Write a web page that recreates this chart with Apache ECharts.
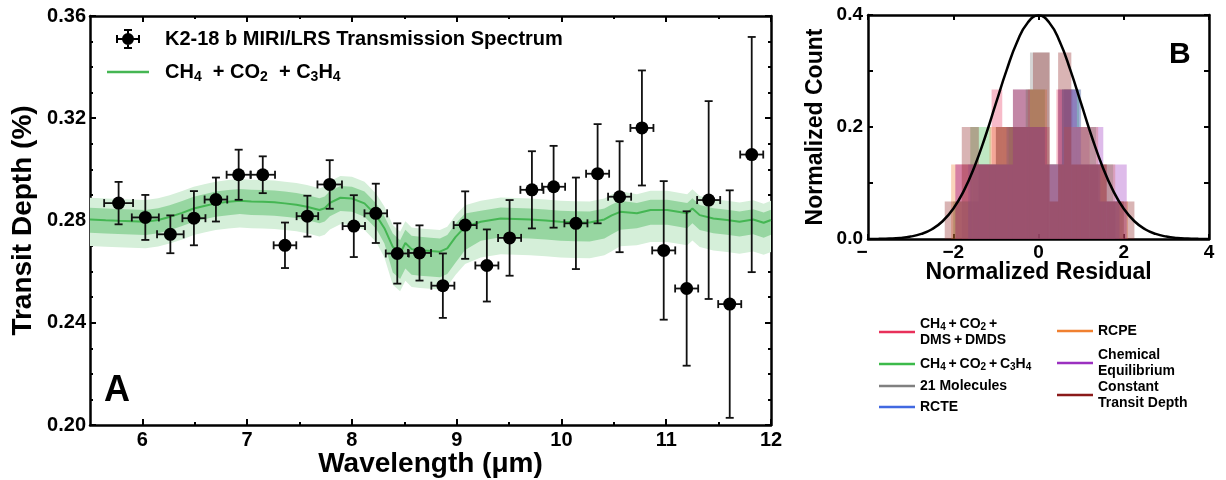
<!DOCTYPE html>
<html><head><meta charset="utf-8">
<script src="https://cdn.jsdelivr.net/npm/echarts@6/dist/echarts.min.js"></script>
<style>html,body{margin:0;padding:0;background:#fff}#c{width:1226px;height:480px}</style>
</head><body><div id="c"></div>
<script>
// ---------- Panel A data ----------
const dataWave  = [5.773,6.028,6.267,6.492,6.702,6.919,7.149,7.361,7.575,7.788,8.018,8.228,8.433,8.645,8.868,9.081,9.288,9.505,9.718,9.925,10.138,10.345,10.555,10.768,10.976,11.195,11.405,11.606,11.816];
const dataDepth = [0.2868,0.2812,0.2746,0.2809,0.2882,0.2979,0.2979,0.2703,0.2817,0.2941,0.2778,0.2828,0.2671,0.2673,0.2545,0.2782,0.2624,0.2732,0.2920,0.2932,0.2789,0.2983,0.2893,0.3162,0.2683,0.2534,0.2880,0.2473,0.3058];
const dataErr   = [0.0083,0.0088,0.0074,0.0106,0.0086,0.0098,0.0072,0.0089,0.0080,0.0095,0.0121,0.0116,0.0118,0.0108,0.0126,0.0132,0.0141,0.0148,0.0151,0.0160,0.0179,0.0194,0.0217,0.0225,0.0271,0.0302,0.0387,0.0445,0.0460];
const dataXErr  = [0.138,0.129,0.127,0.110,0.108,0.115,0.117,0.108,0.103,0.117,0.107,0.108,0.110,0.110,0.110,0.110,0.110,0.110,0.110,0.110,0.110,0.110,0.110,0.110,0.110,0.110,0.110,0.110,0.110];

const modelWave  = [5.50,5.65,5.77,5.90,6.03,6.15,6.26,6.38,6.49,6.60,6.70,6.82,6.93,7.04,7.15,7.26,7.36,7.47,7.57,7.69,7.74,7.79,7.89,8.00,8.12,8.23,8.31,8.39,8.46,8.51,8.57,8.65,8.75,8.84,8.91,8.99,9.08,9.23,9.42,9.56,9.70,9.85,9.99,10.13,10.27,10.41,10.48,10.56,10.72,10.85,11.01,11.20,11.25,11.32,11.45,11.58,11.70,11.83,11.93,12.00];
const modelDepth = [0.2804,0.2801,0.2799,0.2797,0.2795,0.2802,0.2814,0.2830,0.2847,0.2858,0.2867,0.2873,0.2877,0.2874,0.2873,0.2871,0.2867,0.2862,0.2854,0.2841,0.2848,0.2869,0.2889,0.2886,0.2867,0.2821,0.2770,0.2697,0.2671,0.2712,0.2688,0.2684,0.2681,0.2678,0.2691,0.2736,0.2775,0.2795,0.2808,0.2806,0.2804,0.2800,0.2795,0.2793,0.2792,0.2804,0.2820,0.2834,0.2828,0.2841,0.2841,0.2828,0.2847,0.2821,0.2808,0.2802,0.2795,0.2804,0.2791,0.2802];
// band half-widths (1 sigma up/down, 2 sigma up/down)
const sig1Up = [0.0046,0.0046,0.0046,0.0046,0.0046,0.0046,0.0046,0.0046,0.0046,0.0046,0.0046,0.0046,0.0046,0.0046,0.0046,0.0046,0.0046,0.0046,0.0046,0.0046,0.0046,0.0046,0.0046,0.0046,0.0046,0.0046,0.0046,0.0052,0.0052,0.0052,0.0052,0.0052,0.0052,0.0052,0.0052,0.0052,0.0052,0.0043,0.0043,0.0043,0.0043,0.0043,0.0043,0.0043,0.0043,0.0043,0.0043,0.0043,0.0040,0.0040,0.0040,0.0040,0.0040,0.0040,0.0040,0.0040,0.0040,0.0040,0.0040,0.0040];
const sig1Dn = [0.0052,0.0052,0.0052,0.0052,0.0052,0.0052,0.0052,0.0052,0.0052,0.0052,0.0052,0.0052,0.0052,0.0052,0.0052,0.0052,0.0052,0.0052,0.0052,0.0052,0.0052,0.0052,0.0052,0.0052,0.0052,0.0052,0.0060,0.0100,0.0100,0.0100,0.0100,0.0100,0.0100,0.0100,0.0100,0.0100,0.0090,0.0074,0.0074,0.0074,0.0074,0.0074,0.0074,0.0074,0.0074,0.0074,0.0074,0.0070,0.0058,0.0058,0.0058,0.0058,0.0058,0.0058,0.0058,0.0058,0.0058,0.0058,0.0058,0.0058];
const sig2Up = [0.0085,0.0085,0.0085,0.0085,0.0085,0.0085,0.0085,0.0085,0.0085,0.0085,0.0085,0.0085,0.0085,0.0085,0.0085,0.0085,0.0085,0.0085,0.0085,0.0085,0.0085,0.0085,0.0085,0.0085,0.0085,0.0085,0.0085,0.0085,0.0085,0.0085,0.0085,0.0085,0.0085,0.0085,0.0085,0.0085,0.0085,0.0082,0.0082,0.0082,0.0082,0.0082,0.0082,0.0082,0.0082,0.0082,0.0082,0.0080,0.0075,0.0075,0.0075,0.0075,0.0075,0.0075,0.0075,0.0075,0.0075,0.0075,0.0075,0.0075];
const sig2Dn = [0.0104,0.0104,0.0104,0.0104,0.0104,0.0104,0.0104,0.0104,0.0104,0.0104,0.0104,0.0104,0.0104,0.0104,0.0104,0.0104,0.0104,0.0104,0.0104,0.0104,0.0104,0.0104,0.0104,0.0104,0.0104,0.0104,0.0115,0.0148,0.0148,0.0148,0.0148,0.0148,0.0148,0.0148,0.0148,0.0148,0.0145,0.0140,0.0140,0.0140,0.0140,0.0140,0.0140,0.0140,0.0140,0.0140,0.0140,0.0135,0.0125,0.0125,0.0125,0.0125,0.0125,0.0125,0.0125,0.0125,0.0125,0.0125,0.0125,0.0125];

const xMajorTicks = [6,7,8,9,10,11,12];
const xMinorTicks = [6.5,7.5,8.5,9.5,10.5,11.5];

// ---------- Panel B data: [binLeft, binRight, normalizedCount] ----------
const histDMS   = [[-1.95,-1.55,0.133],[-1.55,-1.1,0.133],[-1.1,-0.85,0.267],[-0.85,-0.45,0.2],[-0.45,-0.05,0.2],[-0.05,0.26,0.2],[0.26,0.42,0.133],[0.42,0.8,0.267],[0.8,1.2,0.2],[1.2,1.6,0.133],[1.6,2.0,0.067]];
const histC3H4  = [[-2.0,-1.6,0.067],[-1.6,-1.12,0.2],[-1.12,-0.7,0.133],[-0.7,-0.3,0.2],[-0.3,0.15,0.267],[0.15,0.55,0.133],[0.55,0.95,0.267],[0.95,1.35,0.2],[1.35,1.75,0.133],[1.75,2.0,0.067]];
const hist21Mol = [[-1.8,-1.4,0.067],[-1.4,-1.0,0.133],[-1.0,-0.6,0.2],[-0.6,-0.2,0.2],[-0.2,0.26,0.333],[0.26,0.6,0.133],[0.6,1.0,0.267],[1.0,1.4,0.133],[1.4,1.8,0.067]];
const histRCTE  = [[-1.65,-1.2,0.133],[-1.2,-0.75,0.133],[-0.75,-0.3,0.2],[-0.3,0.15,0.2],[0.15,0.55,0.133],[0.55,0.99,0.267],[0.99,1.45,0.133],[1.45,1.9,0.067]];
const histRCPE  = [[-2.05,-1.6,0.133],[-1.6,-1.15,0.133],[-1.15,-0.7,0.2],[-0.7,-0.25,0.2],[-0.25,0.2,0.267],[0.2,0.6,0.133],[0.6,1.0,0.2],[1.0,1.4,0.2],[1.4,1.8,0.133],[1.8,2.1,0.067]];
const histChemEq= [[-1.95,-1.55,0.133],[-1.55,-1.15,0.133],[-1.15,-0.6,0.133],[-0.6,-0.2,0.267],[-0.2,0.2,0.2],[0.2,0.46,0.133],[0.46,0.9,0.267],[0.9,1.2,0.2],[1.2,1.52,0.2],[1.52,1.67,0.133],[1.67,2.07,0.133]];
const histConst = [[-2.2,-1.8,0.067],[-1.8,-1.4,0.2],[-1.4,-1.0,0.133],[-1.0,-0.6,0.2],[-0.6,-0.13,0.267],[-0.13,0.26,0.333],[0.26,0.46,0.067],[0.46,0.77,0.333],[0.77,1.2,0.133],[1.2,1.6,0.133],[1.6,1.97,0.067],[1.97,2.25,0.067]];

const gaussX = [-4,-3.75,-3.5,-3.25,-3,-2.75,-2.5,-2.25,-2,-1.75,-1.5,-1.25,-1,-0.75,-0.5,-0.25,0,0.25,0.5,0.75,1,1.25,1.5,1.75,2,2.25,2.5,2.75,3,3.25,3.5,3.75,4];
const gaussY = [0.0001,0.0004,0.0009,0.002,0.0044,0.0091,0.0175,0.0317,0.054,0.0863,0.1295,0.1826,0.242,0.3011,0.3521,0.3867,0.3989,0.3867,0.3521,0.3011,0.242,0.1826,0.1295,0.0863,0.054,0.0317,0.0175,0.0091,0.0044,0.002,0.0009,0.0004,0.0001];

// ---------- styling ----------
const FONT = '"Liberation Sans", Arial, Helvetica, sans-serif';
const BLACK = '#000';
const histModels = [
  {name:'DMS', data:histDMS, color:'#e8305a'},
  {name:'C3H4', data:histC3H4, color:'#3cba4a'},
  {name:'21 Molecules', data:hist21Mol, color:'#808080'},
  {name:'RCTE', data:histRCTE, color:'#4169e1'},
  {name:'RCPE', data:histRCPE, color:'#f08030'},
  {name:'Chemical Equilibrium', data:histChemEq, color:'#9b30c0'},
  {name:'Constant Transit Depth', data:histConst, color:'#8b1a1a'}
];
function rgba(hex, a){
  const n = parseInt(hex.slice(1),16);
  return 'rgba(' + (n>>16) + ',' + ((n>>8)&255) + ',' + (n&255) + ',' + a + ')';
}

const band2Lo = modelDepth.map((d,i)=>d - sig2Dn[i]);
const band2Hi = modelDepth.map((d,i)=>d + sig2Up[i]);
const band1Lo = modelDepth.map((d,i)=>d - sig1Dn[i]);
const band1Hi = modelDepth.map((d,i)=>d + sig1Up[i]);

function bandRenderer(lo, hi, color){
  return function(params, api){
    if (params.dataIndex !== 0) return;
    const pts = [];
    for (let i=0;i<modelWave.length;i++) pts.push(api.coord([modelWave[i], hi[i]]));
    for (let i=modelWave.length-1;i>=0;i--) pts.push(api.coord([modelWave[i], lo[i]]));
    return {type:'polygon', shape:{points:pts}, style:{fill:color}, silent:true};
  };
}

function errRenderer(params, api){
  const x = api.value(0), y = api.value(1), ye = api.value(2), xe = api.value(3);
  const t = api.coord([x, y+ye]), b = api.coord([x, y-ye]);
  const l = api.coord([x-xe, y]), r = api.coord([x+xe, y]);
  const c = 4;
  const st = {stroke:'#111', lineWidth:1.8};
  const L = (x1,y1,x2,y2)=>({type:'line', shape:{x1,y1,x2,y2}, style:st});
  return {type:'group', children:[
    L(t[0],t[1],b[0],b[1]), L(t[0]-c,t[1],t[0]+c,t[1]), L(b[0]-c,b[1],b[0]+c,b[1]),
    L(l[0],l[1],r[0],r[1]), L(l[0],l[1]-c,l[0],l[1]+c), L(r[0],r[1]-c,r[0],r[1]+c)
  ]};
}

function histRenderer(color){
  return function(params, api){
    const p1 = api.coord([api.value(0), api.value(2)]);
    const p2 = api.coord([api.value(1), 0]);
    return {type:'rect', shape:{x:p1[0], y:p1[1], width:p2[0]-p1[0], height:p2[1]-p1[1]},
            style:{fill:rgba(color,0.33)}, silent:true};
  };
}

const axLine = {show:true, onZero:false, lineStyle:{color:BLACK, width:2.5}};
const tickStyle = {color:BLACK, width:2};
const lblStyle = {color:BLACK, fontFamily:FONT, fontWeight:'bold'};
const nameStyle = {color:BLACK, fontFamily:FONT, fontWeight:'bold'};

const xAxes = [
  {gridIndex:0, type:'value', min:5.5, max:12, position:'bottom', axisLine:axLine,
   axisTick:{show:true, inside:true, length:6, lineStyle:tickStyle, customValues:xMajorTicks},
   axisLabel:Object.assign({customValues:xMajorTicks, fontSize:20, margin:5}, lblStyle),
   splitLine:{show:false}, name:'Wavelength (μm)', nameLocation:'middle', nameGap:25, nameMoveOverlap:false,
   nameTextStyle:Object.assign({fontSize:28}, nameStyle)},
  {gridIndex:0, type:'value', min:5.5, max:12, position:'bottom', axisLine:{show:false},
   axisTick:{show:true, inside:true, length:3, lineStyle:tickStyle, customValues:xMinorTicks},
   axisLabel:{show:false}, splitLine:{show:false}},
  {gridIndex:0, type:'value', min:5.5, max:12, position:'top', axisLine:axLine,
   axisTick:{show:true, inside:true, length:6, lineStyle:tickStyle, customValues:xMajorTicks},
   axisLabel:{show:false}, splitLine:{show:false}},
  {gridIndex:0, type:'value', min:5.5, max:12, position:'top', axisLine:{show:false},
   axisTick:{show:true, inside:true, length:3, lineStyle:tickStyle, customValues:xMinorTicks},
   axisLabel:{show:false}, splitLine:{show:false}},
  {gridIndex:1, type:'value', min:-4, max:4, interval:2, position:'bottom', axisLine:axLine,
   axisTick:{show:true, inside:true, length:5, lineStyle:tickStyle},
   axisLabel:Object.assign({fontSize:19, margin:4, formatter:function(v){
     if (v === -4) return '{m|−}';
     return v < 0 ? '−' + Math.abs(v) : String(v);
   }, rich:{m:{fontSize:19, fontWeight:'bold', fontFamily:FONT, color:BLACK, padding:[0,12,0,0]}}}, lblStyle),
   splitLine:{show:false}, name:'Normalized Residual', nameLocation:'middle', nameGap:22, nameMoveOverlap:false,
   nameTextStyle:Object.assign({fontSize:23}, nameStyle)},
  {gridIndex:1, type:'value', min:-4, max:4, interval:2, position:'top', axisLine:axLine,
   axisTick:{show:true, inside:true, length:5, lineStyle:tickStyle},
   axisLabel:{show:false}, splitLine:{show:false}}
];

const yAxes = [
  {gridIndex:0, type:'value', min:0.2, max:0.36, interval:0.04, position:'left', axisLine:axLine,
   axisTick:{show:true, inside:true, length:6, lineStyle:tickStyle},
   minorTick:{show:true, splitNumber:4, length:3, lineStyle:tickStyle},
   axisLabel:Object.assign({fontSize:20, margin:4, formatter:v=>v.toFixed(2)}, lblStyle),
   splitLine:{show:false}, minorSplitLine:{show:false},
   name:'Transit Depth (%)', nameLocation:'middle', nameGap:53, nameRotate:90, nameMoveOverlap:false,
   nameTextStyle:Object.assign({fontSize:28}, nameStyle)},
  {gridIndex:0, type:'value', min:0.2, max:0.36, interval:0.04, position:'right', axisLine:axLine,
   axisTick:{show:true, inside:true, length:6, lineStyle:tickStyle},
   minorTick:{show:true, splitNumber:4, length:3, lineStyle:tickStyle},
   axisLabel:{show:false}, splitLine:{show:false}},
  {gridIndex:1, type:'value', min:0, max:0.4, interval:0.2, position:'left', axisLine:axLine,
   axisTick:{show:true, inside:true, length:5, lineStyle:tickStyle},
   minorTick:{show:true, splitNumber:2, length:5, lineStyle:tickStyle},
   axisLabel:Object.assign({fontSize:19, margin:5, formatter:v=>v.toFixed(1)}, lblStyle),
   splitLine:{show:false},
   name:'Normalized Count', nameLocation:'middle', nameGap:41, nameRotate:90, nameMoveOverlap:false,
   nameTextStyle:Object.assign({fontSize:23}, nameStyle)},
  {gridIndex:1, type:'value', min:0, max:0.4, interval:0.2, position:'right', axisLine:axLine,
   axisTick:{show:true, inside:true, length:5, lineStyle:tickStyle},
   minorTick:{show:true, splitNumber:2, length:5, lineStyle:tickStyle},
   axisLabel:{show:false}, splitLine:{show:false}}
];

const MODEL_NAME = 'CH4 + CO2 + C3H4 model';
const SPEC_NAME = 'K2-18 b MIRI/LRS Transmission Spectrum';

const series = [
  {type:'custom', name:'band2', xAxisIndex:0, yAxisIndex:0, z:1,
   data:modelWave.map((w,i)=>[w, band2Lo[i], band2Hi[i]]),
   renderItem:bandRenderer(band2Lo, band2Hi, '#d5efd9')},
  {type:'custom', name:'band1', xAxisIndex:0, yAxisIndex:0, z:2,
   data:modelWave.map((w,i)=>[w, band1Lo[i], band1Hi[i]]),
   renderItem:bandRenderer(band1Lo, band1Hi, '#97d6a1')},
  {type:'line', name:MODEL_NAME, xAxisIndex:0, yAxisIndex:0, z:3,
   data:modelWave.map((w,i)=>[w, modelDepth[i]]), showSymbol:false, symbol:'none',
   lineStyle:{color:'#45b653', width:2}, itemStyle:{color:'#45b653'}},
  {type:'custom', name:'errbars', xAxisIndex:0, yAxisIndex:0, z:4,
   data:dataWave.map((w,i)=>[w, dataDepth[i], dataErr[i], dataXErr[i]]),
   renderItem:errRenderer},
  {type:'scatter', name:SPEC_NAME, xAxisIndex:0, yAxisIndex:0, z:5,
   data:dataWave.map((w,i)=>[w, dataDepth[i]]), symbolSize:13, itemStyle:{color:BLACK, opacity:1}}
];
histModels.forEach((m, k)=>{
  series.push({type:'custom', name:m.name, xAxisIndex:4, yAxisIndex:2, z:10+k,
    data:m.data, itemStyle:{color:m.color}, renderItem:histRenderer(m.color)});
});
series.push({type:'line', name:'gauss', xAxisIndex:4, yAxisIndex:2, z:30,
  data:gaussX.map((x,i)=>[x, gaussY[i]]), smooth:true, showSymbol:false, symbol:'none',
  lineStyle:{color:BLACK, width:2.5}});

const richBig = {
  t:{fontSize:20, fontWeight:'bold', fontFamily:FONT, color:BLACK, lineHeight:22},
  s:{fontSize:14, fontWeight:'bold', fontFamily:FONT, color:BLACK, lineHeight:13, padding:[9,0,0,0], verticalAlign:'top'}
};
const richSmall = {
  t:{fontSize:14, fontWeight:'bold', fontFamily:FONT, color:BLACK, lineHeight:16},
  s:{fontSize:10, fontWeight:'bold', fontFamily:FONT, color:BLACK, lineHeight:10, padding:[6,0,0,0], verticalAlign:'top'}
};
const legendLabels = {};
legendLabels[SPEC_NAME] = '{t|K2-18 b MIRI/LRS Transmission Spectrum}';
legendLabels[MODEL_NAME] = '{t|CH}{s|4}{t|  + CO}{s|2}{t|  + C}{s|3}{t|H}{s|4}';
legendLabels['DMS'] = '{t|CH}{s|4}{t|\u2009+\u2009CO}{s|2}{t|\u2009+}\n{t|DMS\u2009+\u2009DMDS}';
legendLabels['C3H4'] = '{t|CH}{s|4}{t|\u2009+\u2009CO}{s|2}{t|\u2009+\u2009C}{s|3}{t|H}{s|4}';
legendLabels['21 Molecules'] = '{t|21 Molecules}';
legendLabels['RCTE'] = '{t|RCTE}';
legendLabels['RCPE'] = '{t|RCPE}';
legendLabels['Chemical Equilibrium'] = '{t|Chemical}\n{t|Equilibrium}';
legendLabels['Constant Transit Depth'] = '{t|Constant}\n{t|Transit Depth}';

const errIcon = 'path://M0,9H24V11H0Z M0,6H2V14H0Z M22,6H24V14H22Z M11,0H13V20H11Z M8,0H16V2H8Z M8,18H16V20H8Z M6,10A6,6 0 1 1 18,10A6,6 0 1 1 6,10Z';

function mkLegend(name, left, top, opts){
  return Object.assign({
    data:[name], left:left, top:top, padding:0, selectedMode:false, icon:'rect',
    itemWidth:36, itemHeight:2.5,
    formatter:n=>legendLabels[n],
    textStyle:{rich:richSmall, color:BLACK}
  }, opts || {});
}
const legends = [
  mkLegend(SPEC_NAME, 116, 29, {icon:errIcon, itemWidth:24, itemHeight:20,
    itemStyle:{opacity:1},
    textStyle:{rich:richBig, color:BLACK, padding:[0,0,0,20]}}),
  mkLegend(MODEL_NAME, 107, 61, {itemWidth:42, itemHeight:2.5,
    textStyle:{rich:richBig, color:BLACK, padding:[0,0,0,11]}}),
  mkLegend('DMS', 879, 316),
  mkLegend('C3H4', 879, 356),
  mkLegend('21 Molecules', 879, 379),
  mkLegend('RCTE', 879, 400),
  mkLegend('RCPE', 1057, 324),
  mkLegend('Chemical Equilibrium', 1057, 348),
  mkLegend('Constant Transit Depth', 1057, 380)
];

const chart = echarts.init(document.getElementById('c'), null, {renderer:'canvas'});
chart.setOption({
  animation:false,
  backgroundColor:'#fff',
  textStyle:{fontFamily:FONT},
  grid:[{left:90, top:16, width:681, height:409, containLabel:false, outerBoundsMode:'none'},
        {left:868, top:15, width:341, height:224, containLabel:false, outerBoundsMode:'none'}],
  xAxis:xAxes,
  yAxis:yAxes,
  legend:legends,
  series:series,
  graphic:[
    {type:'text', left:104, top:373, style:{text:'A', fontSize:36, fontWeight:'bold', fontFamily:FONT, fill:BLACK}},
    {type:'text', left:1169, top:40, style:{text:'B', fontSize:30, fontWeight:'bold', fontFamily:FONT, fill:BLACK}}
  ]
});
</script></body></html>
